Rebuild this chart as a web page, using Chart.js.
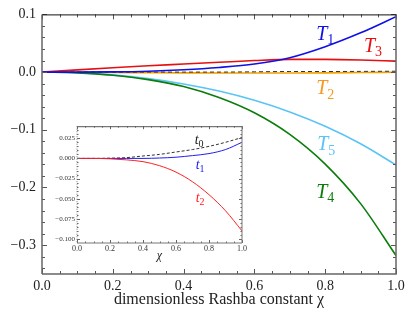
<!DOCTYPE html>
<html>
<head>
<meta charset="utf-8">
<script src="https://cdn.jsdelivr.net/npm/chart.js@4/dist/chart.umd.min.js"></script>
<style>
html, body { margin: 0; padding: 0; background: #fff; }
#wrap { position: relative; width: 409px; height: 313px; }
#main { position: absolute; left: 0; top: 0; }
#inset { position: absolute; left: 50px; top: 120px; }
</style>
</head>
<body>
<div id="wrap">
	<canvas id="main" width="409" height="313"></canvas>
	<canvas id="inset" width="200" height="145"></canvas>
</div>
<script>
// main plot
const chi = [0, 0.1, 0.2, 0.3, 0.4, 0.5, 0.6, 0.7, 0.8, 0.9, 1.0];
const T1 = [0, 0, 0.0003, 0.0015, 0.004, 0.008, 0.014, 0.025, 0.044, 0.068, 0.096];
const T2 = [0, -0.0003, -0.0007, -0.001, -0.0013, -0.0015, -0.0015, -0.0015, -0.0013, -0.0008, -0.0003];
const T3 = [0, 0.0038, 0.0075, 0.011, 0.014, 0.017, 0.020, 0.022, 0.022, 0.021, 0.019];
const T4 = [0, -0.0013, -0.0054, -0.013, -0.025, -0.044, -0.0705, -0.108, -0.1595, -0.228, -0.318];
const T5 = [0, -0.0012, -0.0049, -0.0113, -0.0205, -0.0329, -0.0489, -0.0691, -0.094, -0.1243, -0.161];
const zeroLine = [0, 0, 0, 0, 0, 0, 0.0005, 0.001, 0.001, 0.0012, 0.0015];
const yTicks = [-0.3, -0.2, -0.1, 0.0, 0.1];
const xTicks = [0, 0.2, 0.4, 0.6, 0.8, 1.0];

// inset
const t0 = [0, 0, 0.0003, 0.001, 0.003, 0.005, 0.008, 0.011, 0.015, 0.020, 0.026];
const t1 = [0, 0, 0, 0, 0, 0.0005, 0.0015, 0.0035, 0.006, 0.011, 0.020];
const t2 = [0, 0, -0.0005, -0.0018, -0.004, -0.009, -0.017, -0.029, -0.045, -0.065, -0.090];
const insetYTicks = [-0.1, -0.075, -0.05, -0.025, 0, 0.025];

const serif = '"Liberation Serif", "DejaVu Serif", serif';

function pts(ys) {
	return chi.map(function (x, i) { return { x: x, y: ys[i] }; });
}

function steps(a, b, s) {
	const out = [];
	for (let v = a; v <= b + 1e-9; v += s) out.push(Math.round(v * 10000) / 10000);
	return out;
}

function minus(s) { return s.replace('-', '\u2212'); }

// frame with inward ticks, drawn from the chart's own scales
function framePlugin(o) {
	return {
		id: 'frame',
		afterDatasetsDraw(chart) {
			const ctx = chart.ctx, a = chart.chartArea;
			const xs = chart.scales.x, ys = chart.scales.y;
			const isMajor = (list, v) => list.some(m => Math.abs(m - v) < 1e-7);
			ctx.save();
			ctx.strokeStyle = o.tickColor;
			ctx.lineWidth = 1;
			ctx.beginPath();
			o.xMinor.forEach(v => {
				const p = Math.round(xs.getPixelForValue(v)) + 0.5;
				const len = isMajor(o.xMajor, v) ? o.major : o.minor;
				ctx.moveTo(p, a.bottom); ctx.lineTo(p, a.bottom - len);
				ctx.moveTo(p, a.top); ctx.lineTo(p, a.top + len);
			});
			o.yMinor.forEach(v => {
				const p = Math.round(ys.getPixelForValue(v)) + 0.5;
				if (p < a.top || p > a.bottom) return;
				const len = isMajor(o.yMajor, v) ? o.major : o.minor;
				ctx.moveTo(a.left, p); ctx.lineTo(a.left + len, p);
				ctx.moveTo(a.right, p); ctx.lineTo(a.right - len, p);
			});
			ctx.stroke();

			ctx.lineWidth = o.frameWidth;
			ctx.strokeStyle = o.frameColor;
			ctx.beginPath();
			ctx.moveTo(a.left, a.bottom); ctx.lineTo(a.right, a.bottom); ctx.lineTo(a.right, a.top);
			ctx.stroke();
			ctx.strokeStyle = o.topColor;
			ctx.lineWidth = 1;
			ctx.beginPath();
			ctx.moveTo(a.left, a.top + 0.5); ctx.lineTo(a.right, a.top + 0.5);
			ctx.stroke();
			ctx.strokeStyle = o.frameColor;
			ctx.lineWidth = o.frameWidth;
			if (o.leftDash) ctx.setLineDash(o.leftDash);
			ctx.beginPath();
			ctx.moveTo(a.left, a.top); ctx.lineTo(a.left, a.bottom);
			ctx.stroke();
			ctx.restore();
		}
	};
}

// curve labels like T_1, placed in data coordinates
function labelPlugin(items, size) {
	return {
		id: 'curveLabels',
		afterDatasetsDraw(chart) {
			const ctx = chart.ctx, xs = chart.scales.x, ys = chart.scales.y;
			ctx.save();
			ctx.textBaseline = 'alphabetic';
			items.forEach(it => {
				const px = xs.getPixelForValue(it.x), py = ys.getPixelForValue(it.y);
				ctx.fillStyle = it.color;
				ctx.font = 'italic ' + size + 'px ' + serif;
				const w = ctx.measureText(it.t).width;
				ctx.font = Math.round(size * 0.7) + 'px ' + serif;
				const ws = ctx.measureText(it.sub).width;
				const x0 = px - (w + ws) / 2;
				const base = py + size * 0.33;
				ctx.font = 'italic ' + size + 'px ' + serif;
				ctx.fillText(it.t, x0, base);
				ctx.font = Math.round(size * 0.7) + 'px ' + serif;
				ctx.fillText(it.sub, x0 + w, base + size * 0.22);
			});
			ctx.restore();
		}
	};
}

function line(ys, color, width, dash) {
	return {
		data: pts(ys),
		borderColor: color,
		backgroundColor: color,
		borderWidth: width,
		borderDash: dash || [],
		pointRadius: 0,
		fill: false,
		cubicInterpolationMode: 'monotone'
	};
}

const mainChart = new Chart(document.getElementById('main'), {
	type: 'line',
	data: {
		datasets: [
			line(T1, '#1010e6', 1.6),
			line(T3, '#e61010', 1.6),
			line(T4, '#0a7d0a', 1.6),
			line(T5, '#5ac4f5', 1.6),
			line(zeroLine, '#333333', 1, [4, 3]),
			line(T2, '#f5a000', 1.6)
		]
	},
	options: {
		responsive: false,
		animation: false,
		layout: { padding: { top: 11, right: 13, left: 0, bottom: 0 } },
		plugins: { legend: { display: false }, tooltip: { enabled: false } },
		scales: {
			x: {
				type: 'linear', min: 0, max: 1,
				grid: { display: false, drawTicks: false },
				border: { display: false },
				afterBuildTicks: s => { s.ticks = xTicks.map(v => ({ value: v })); },
				afterFit: s => { s.height = 39; },
				ticks: {
					autoSkip: false, maxRotation: 0, padding: 4,
					color: '#222', font: { family: serif, size: 14 },
					callback: v => v.toFixed(1)
				},
				title: {
					display: true, text: 'dimensionless Rashba constant \u03c7',
					color: '#222', font: { family: serif, size: 16 },
					padding: { top: 0, bottom: 4 }
				}
			},
			y: {
				type: 'linear', min: -0.35, max: 0.1,
				grid: { display: false, drawTicks: false },
				border: { display: false },
				afterBuildTicks: s => { s.ticks = yTicks.map(v => ({ value: v })); },
				afterFit: s => { s.width = 42; },
				ticks: {
					autoSkip: false, padding: 6,
					color: '#222', font: { family: serif, size: 14 },
					callback: v => minus(v.toFixed(1))
				}
			}
		}
	},
	plugins: [
		framePlugin({
			xMajor: xTicks, xMinor: steps(0, 1, 0.05),
			yMajor: yTicks, yMinor: steps(-0.34, 0.1, 0.02),
			major: 5, minor: 3, tickColor: '#555',
			frameColor: '#666', frameWidth: 1.5, topColor: '#111'
		}),
		labelPlugin([
			{ t: 'T', sub: '1', x: 0.8, y: 0.067, color: '#1010e6' },
			{ t: 'T', sub: '3', x: 0.935, y: 0.047, color: '#e61010' },
			{ t: 'T', sub: '2', x: 0.8, y: -0.027, color: '#f59a20' },
			{ t: 'T', sub: '5', x: 0.803, y: -0.124, color: '#5ac4f5' },
			{ t: 'T', sub: '4', x: 0.8, y: -0.206, color: '#0a7d0a' }
		], 20)
	]
});

const insetChart = new Chart(document.getElementById('inset'), {
	type: 'line',
	data: {
		datasets: [
			line(t2, '#ff2020', 1),
			line(t1, '#2020ee', 1),
			line(t0, '#333333', 1, [3, 2])
		]
	},
	options: {
		responsive: false,
		animation: false,
		layout: { padding: { top: 6, right: 8, left: 0, bottom: 0 } },
		plugins: { legend: { display: false }, tooltip: { enabled: false } },
		scales: {
			x: {
				type: 'linear', min: 0, max: 1,
				grid: { display: false, drawTicks: false },
				border: { display: false },
				afterBuildTicks: s => { s.ticks = xTicks.map(v => ({ value: v })); },
				afterFit: s => { s.height = 22; },
				ticks: {
					autoSkip: false, maxRotation: 0, padding: 1,
					color: '#333', font: { family: serif, size: 8 },
					callback: v => v.toFixed(1)
				},
				title: {
					display: true, text: '\u03c7',
					color: '#222', font: { family: serif, size: 12, style: 'italic' },
					padding: { top: 0, bottom: 2 }
				}
			},
			y: {
				type: 'linear', min: -0.105, max: 0.04,
				grid: { display: false, drawTicks: false },
				border: { display: false },
				afterBuildTicks: s => { s.ticks = insetYTicks.map(v => ({ value: v })); },
				afterFit: s => { s.width = 27; },
				ticks: {
					autoSkip: false, padding: 2,
					color: '#333', font: { family: serif, size: 7 },
					callback: v => minus(v.toFixed(3))
				}
			}
		}
	},
	plugins: [
		framePlugin({
			xMajor: xTicks, xMinor: steps(0, 1, 0.05),
			yMajor: insetYTicks, yMinor: steps(-0.1, 0.035, 0.005),
			major: 3, minor: 1.5, tickColor: '#666',
			frameColor: '#777', frameWidth: 1, topColor: '#555', leftDash: [1, 1.5]
		}),
		labelPlugin([
			{ t: 't', sub: '0', x: 0.74, y: 0.024, color: '#222' },
			{ t: 't', sub: '1', x: 0.746, y: -0.007, color: '#2020ee' },
			{ t: 't', sub: '2', x: 0.746, y: -0.048, color: '#ff2020' }
		], 14)
	]
});
</script>
</body>
</html>
